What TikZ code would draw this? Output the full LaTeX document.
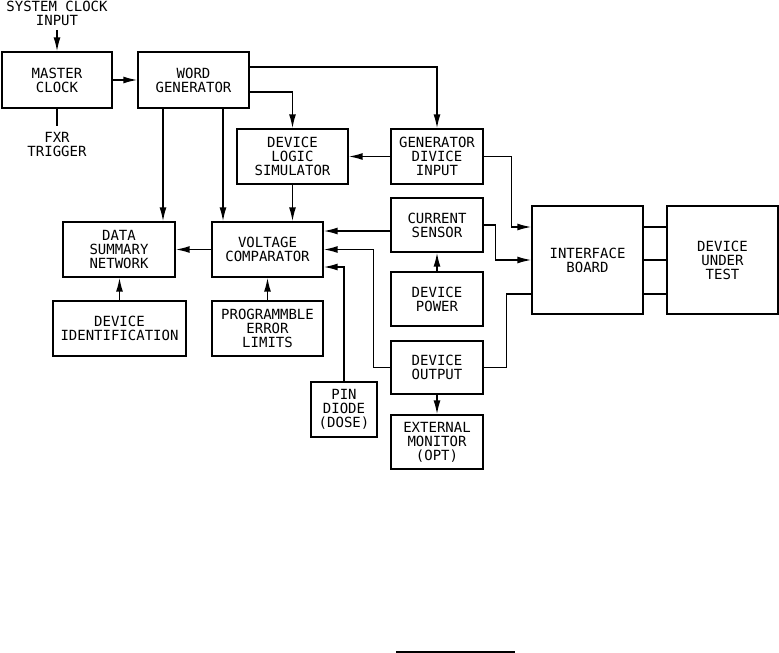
\documentclass[tikz,border=0pt]{standalone}
\usepackage{fontspec}
\newfontfamily\cadfont{DejaVu Sans Mono}
\usetikzlibrary{arrows.meta}

\tikzset{
    blk/.style={draw, line width=1.4pt, align=center, inner sep=0pt,
        font=\cadfont\fontsize{14}{14}\selectfont},
    sz/.style 2 args={minimum width=#1pt, minimum height=#2pt},
    txt/.style={align=center, inner sep=2pt,
        font=\cadfont\fontsize{14}{14}\selectfont},
    wire/.style={line width=1.5pt},
    arr/.style={wire, -{Latex[length=14pt,width=7pt]}},
}

\begin{document}
\begin{tikzpicture}[
    x=1pt,
    y=-1pt,
]

% Frame of the page
\useasboundingbox (0,0) rectangle (779,653);

% Clock and generator
\node[txt] (sysin) at (57,13) {SYSTEM CLOCK\\INPUT};
\node[blk, sz={110}{56}] (mclk) at (57,80) {MASTER\\CLOCK};
\node[txt] (fxr) at (57,144) {FXR\\TRIGGER};
\node[blk, sz={111}{56}] (wgen) at (193.5,80) {WORD\\GENERATOR};

% Second row
\node[blk, sz={111}{55}] (dls) at (292.5,156.5) {DEVICE\\LOGIC\\SIMULATOR};
\node[blk, sz={92}{55}] (gdi) at (437,156.5) {GENERATOR\\DIVICE\\INPUT};

% Comparator row
\node[blk, sz={112}{55}] (dsn) at (119,249.5) {DATA\\SUMMARY\\NETWORK};
\node[blk, sz={111}{55}] (vc) at (267.5,249.5) {VOLTAGE\\COMPARATOR};
\node[blk, sz={92}{54}] (cs) at (437,225) {CURRENT\\SENSOR};

% Lower blocks
\node[blk, sz={133}{55}] (did) at (119.5,328.5) {DEVICE\\IDENTIFICATION};
\node[blk, sz={111}{55}] (pel) at (267.5,328.5) {PROGRAMMBLE\\ERROR\\LIMITS};
\node[blk, sz={92}{54}] (dpow) at (437,299) {DEVICE\\POWER};
\node[blk, sz={92}{53}] (dout) at (437,367.5) {DEVICE\\OUTPUT};
\node[blk, sz={66}{55}] (pin) at (344,409.5) {PIN\\DIODE\\(DOSE)};
\node[blk, sz={92}{54}] (extm) at (437,442) {EXTERNAL\\MONITOR\\(OPT)};

% Interface and device
\node[blk, sz={111}{108}] (ib) at (587.5,260) {INTERFACE\\BOARD};
\node[blk, sz={111}{108}] (dut) at (722.5,260) {DEVICE\\UNDER\\TEST};

% Clock lines
\draw[arr] ([yshift=-3pt]sysin.south) -- (mclk.north);
\draw[wire] (mclk.south) -- ([yshift=4pt]mclk.south |- fxr.north);
\draw[arr] (mclk.east) -- (wgen.west);

% Generator outputs
\draw[arr] ([yshift=13pt]wgen.east) -| (gdi.north);
\draw[arr] ([yshift=-12pt]wgen.east) -| (dls.north);
\draw[arr] ([xshift=-30.5pt]wgen.south) -- ([xshift=-30.5pt]wgen.south |- dsn.north);
\draw[arr] ([xshift=29.5pt]wgen.south) -- ([xshift=29.5pt]wgen.south |- vc.north);
\draw[arr] (gdi.west) -- (dls.east);
\draw[arr] (dls.south) -- (dls.south |- vc.north);

% Comparator inputs
\draw[arr] ([yshift=-6pt]cs.west) -- ([yshift=-6pt]cs.west -| vc.east);
\draw[arr] (dout.west) -| ([xshift=50pt]vc.east) -- (vc.east);
\draw[arr] (pin.north) |- ([yshift=-17.5pt]vc.east);
\draw[arr] (vc.west) -- (dsn.east);
\draw[arr] (did.north) -- (did.north |- dsn.south);
\draw[arr] (pel.north) -- (vc.south);

% Power and output
\draw[arr] (dpow.north) -- (cs.south);
\draw[arr] (dout.south) -- (extm.north);

% Interface board lines
\draw[arr] (gdi.east) -| ([xshift=-20pt,yshift=33pt]ib.west) -- ([yshift=33pt]ib.west);
\draw[arr] (cs.east) -| ([xshift=-36pt]ib.west) -- (ib.west);
\draw[wire] (dout.east) -| ([xshift=-25pt,yshift=-34pt]ib.west) -- ([yshift=-34pt]ib.west);
\foreach \dy in {33,0,-34}
    \draw[wire] ([yshift=\dy pt]ib.east) -- ([yshift=\dy pt]dut.west);

% Rule at the foot
\draw[wire] (396,652) -- (515,652);

\end{tikzpicture}
\end{document}
